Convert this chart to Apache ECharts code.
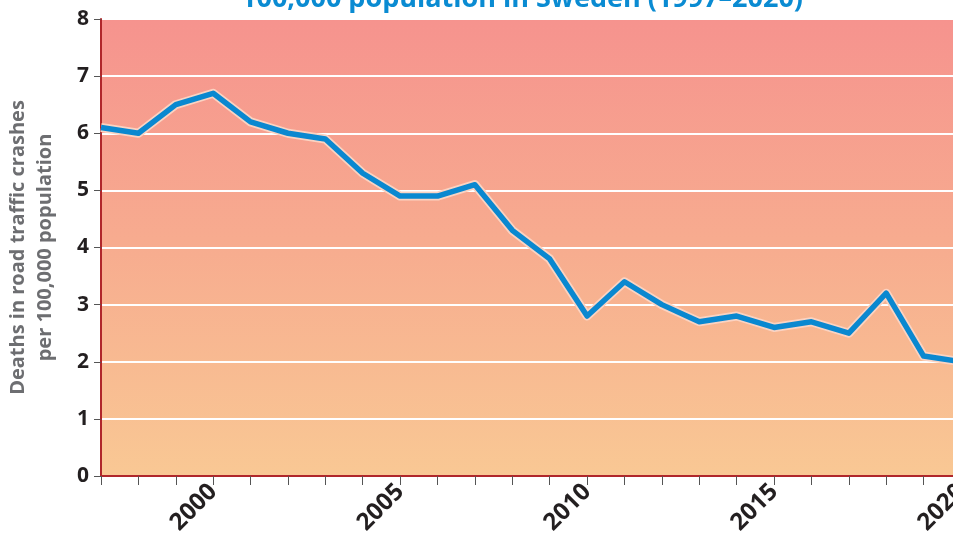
<!DOCTYPE html>
<html>
<head>
<meta charset="utf-8">
<script src="https://cdn.jsdelivr.net/npm/echarts@6/dist/echarts.min.js"></script>
<style>
  html, body { margin: 0; padding: 0; background: #ffffff; }
  #chart { width: 953px; height: 536px; }
</style>
</head>
<body>
<div id="chart"></div>
<script>
'use strict';

// years on the x axis
var years = ['1997', '1998', '1999', '2000', '2001', '2002', '2003', '2004', '2005', '2006', '2007', '2008',
             '2009', '2010', '2011', '2012', '2013', '2014', '2015', '2016', '2017', '2018', '2019', '2020'];

// deaths per 100,000 population
var deathRate = [6.1, 6.0, 6.5, 6.7, 6.2, 6.0, 5.9, 5.3, 4.9, 4.9, 5.1, 4.3,
                 3.8, 2.8, 3.4, 3.0, 2.7, 2.8, 2.6, 2.7, 2.5, 3.2, 2.1, 2.0];

var labelledYears = ['2000', '2005', '2010', '2015', '2020'];

var myChart = echarts.init(document.getElementById('chart'));

var option = {
    animation: false,
    backgroundColor: '#ffffff',
    title: {
        text: 'Deaths in road traffic crashes per\n100,000 population in Sweden (1997\u20132020)',
        left: 517,
        top: -54,
        textAlign: 'center',
        textStyle: {
            color: '#0a8bd2',
            fontFamily: 'Open Sans',
            fontWeight: 'bold',
            fontSize: 27,
            lineHeight: 32
        }
    },
    grid: {
        left: 101,
        right: -8,
        top: 19,
        bottom: 60,
        outerBoundsMode: 'none',
        containLabel: false,
        show: true,
        borderWidth: 0,
        backgroundColor: new echarts.graphic.LinearGradient(0, 0, 0, 1, [
            { offset: 0, color: '#f6938e' },
            { offset: 0.5, color: '#f7ac8f' },
            { offset: 1, color: '#f9c894' }
        ])
    },
    xAxis: {
        type: 'category',
        data: years,
        boundaryGap: false,
        axisLine: { lineStyle: { color: '#b0272b', width: 2 } },
        axisTick: {
            show: true,
            length: 9,
            interval: 0,
            lineStyle: { color: '#555555', width: 1 }
        },
        axisLabel: {
            interval: 0,
            rotate: 45,
            margin: 12,
            color: '#231f20',
            fontFamily: 'Open Sans',
            fontWeight: 'bold',
            fontSize: 24,
            formatter: function(value){
                return labelledYears.indexOf(value) >= 0 ? value : '';
            }
        },
        splitLine: { show: false }
    },
    yAxis: {
        type: 'value',
        min: 0,
        max: 8,
        interval: 1,
        name: 'Deaths in road traffic crashes\nper 100,000 population',
        nameLocation: 'middle',
        nameGap: 42,
        nameTextStyle: {
            color: '#6d6e71',
            fontFamily: 'Open Sans',
            fontWeight: 'bold',
            fontSize: 20,
            lineHeight: 27
        },
        axisLine: { show: true, lineStyle: { color: '#b0272b', width: 2 } },
        axisTick: { show: true, length: 7, lineStyle: { color: '#555555', width: 1 } },
        axisLabel: {
            margin: 12,
            color: '#231f20',
            fontFamily: 'Open Sans',
            fontWeight: 'bold',
            fontSize: 21
        },
        splitLine: { show: true, lineStyle: { color: '#ffffff', width: 2 } }
    },
    series: [
        {
            // pale halo under the line
            type: 'line',
            data: deathRate,
            symbol: 'none',
            silent: true,
            lineStyle: { color: '#fbd3c2', width: 9, join: 'round' },
            z: 2
        },
        {
            type: 'line',
            data: deathRate,
            symbol: 'none',
            lineStyle: { color: '#0a88d0', width: 5.5, join: 'round' },
            z: 3
        }
    ]
};

myChart.setOption(option);
</script>
</body>
</html>
